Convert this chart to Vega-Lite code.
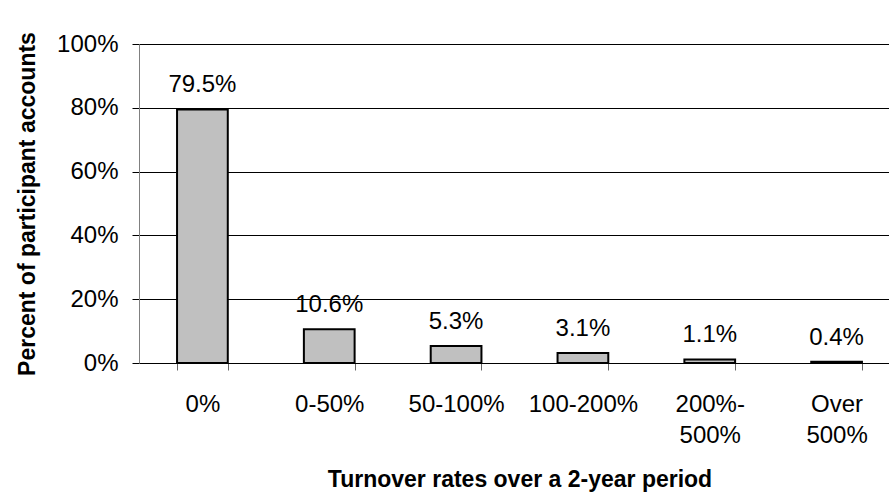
{
  "$schema": "https://vega.github.io/schema/vega-lite/v6.json",
  "autosize": "none",
  "padding": {"left": 139, "top": 44, "right": 0, "bottom": 134},
  "width": 761,
  "height": 319,
  "background": "white",
  "config": {
    "font": "Liberation Sans",
    "view": {"stroke": null}
  },
  "data": {
    "values": [
      {"rate": "0%", "pct": 79.5, "label": "79.5%"},
      {"rate": "0-50%", "pct": 10.6, "label": "10.6%"},
      {"rate": "50-100%", "pct": 5.3, "label": "5.3%"},
      {"rate": "100-200%", "pct": 3.1, "label": "3.1%"},
      {"rate": "200%-500%", "pct": 1.1, "label": "1.1%"},
      {"rate": "Over 500%", "pct": 0.4, "label": "0.4%"}
    ]
  },
  "encoding": {
    "x": {
      "field": "rate",
      "type": "nominal",
      "sort": null,
      "scale": {"paddingInner": 0.6, "paddingOuter": 0.3},
      "axis": {
        "title": "Turnover rates over a 2-year period",
        "titleFontSize": 23,
        "titleFontWeight": "bold",
        "titleColor": "black",
        "titlePadding": 21,
        "labelAngle": 0,
        "labelFontSize": 24,
        "labelColor": "black",
        "labelPadding": 22,
        "labelLineHeight": 31,
        "labelExpr": "datum.label == '200%-500%' ? ['200%-','500%'] : split(datum.label, ' ')",
        "tickBand": "extent",
        "ticks": true,
        "tickSize": 7,
        "tickColor": "#666666",
        "domainColor": "black",
        "domainWidth": 1
      }
    },
    "y": {
      "field": "pct",
      "type": "quantitative",
      "scale": {"domain": [0, 100]},
      "axis": {
        "title": "Percent of participant accounts",
        "titleFontSize": 23,
        "titleFontWeight": "bold",
        "titleColor": "black",
        "titlePadding": 17,
        "values": [0, 20, 40, 60, 80, 100],
        "labelExpr": "datum.value + '%'",
        "labelFontSize": 24,
        "labelColor": "black",
        "labelPadding": 14,
        "tickSize": 7,
        "tickColor": "black",
        "gridColor": "black",
        "gridWidth": 1,
        "domainColor": "#808080"
      }
    }
  },
  "layer": [
    {
      "mark": {"type": "bar", "fill": "#c0c0c0", "stroke": "black", "strokeWidth": 2}
    },
    {
      "mark": {"type": "text", "baseline": "alphabetic", "dy": -17, "fontSize": 24, "color": "black"},
      "encoding": {"text": {"field": "label"}}
    }
  ]
}
